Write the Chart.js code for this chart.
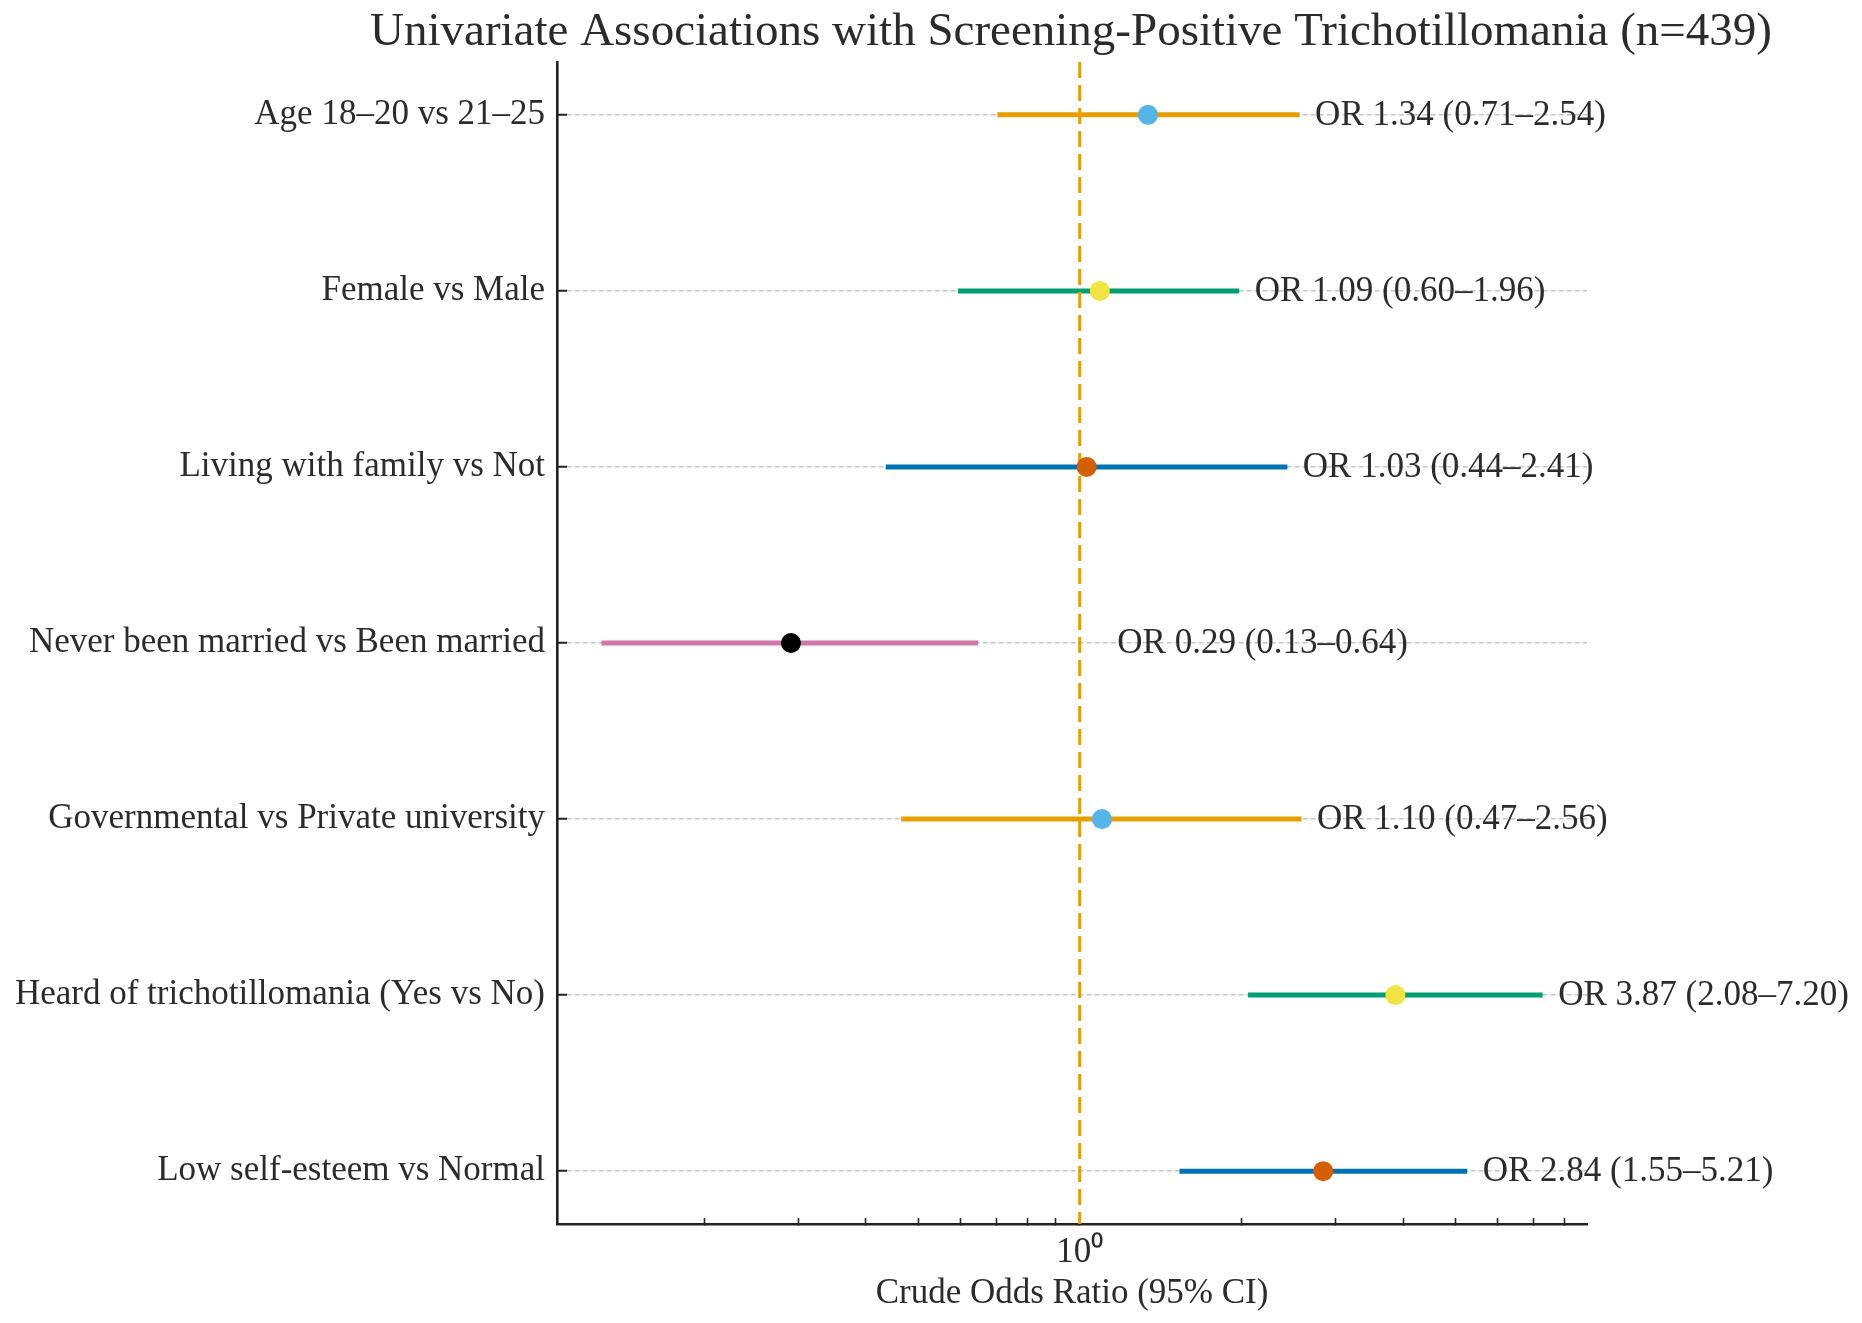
<!DOCTYPE html>
<html>
<head>
<meta charset="utf-8">
<script src="https://cdn.jsdelivr.net/npm/chart.js@4.4.1/dist/chart.umd.min.js"></script>
<style>
  html, body { margin: 0; padding: 0; background: #ffffff; }
  canvas { display: block; }
</style>
</head>
<body>
<canvas id="c" width="1862" height="1323"></canvas>
<script>
// ---- data ----
const categories = [
  "Age 18–20 vs 21–25",
  "Female vs Male",
  "Living with family vs Not",
  "Never been married vs Been married",
  "Governmental vs Private university",
  "Heard of trichotillomania (Yes vs No)",
  "Low self-esteem vs Normal"
];
const oddsRatios = [1.34, 1.09, 1.03, 0.29, 1.10, 3.87, 2.84];
const lowerCI    = [0.71, 0.60, 0.44, 0.13, 0.47, 2.08, 1.55];
const upperCI    = [2.54, 1.96, 2.41, 0.64, 2.56, 7.20, 5.21];
const xTickValues = [0.2, 0.3, 0.4, 0.5, 0.6, 0.7, 0.8, 0.9, 1, 2, 3, 4, 5, 6, 7, 8];
const referenceOR = 1;
const titleText = "Univariate Associations with Screening-Positive Trichotillomania (n=439)";
const xAxisTitle = "Crude Odds Ratio (95% CI)";

// ---- styles ----
const lineColors  = ["#E69F00", "#009E73", "#0072B2", "#CC79A7", "#E69F00", "#009E73", "#0072B2"];
const pointColors = ["#56B4E9", "#F0E442", "#D55E00", "#000000", "#56B4E9", "#F0E442", "#D55E00"];
const FONT = "'Liberation Serif', 'Times New Roman', serif";
const TEXT = "#2b2b2b";

// log-space 5% margins (like matplotlib autoscale)
const lmin = Math.log10(Math.min(...lowerCI));
const lmax = Math.log10(Math.max(...upperCI));
const lpad = (lmax - lmin) * 0.05;
const xMin = Math.pow(10, lmin - lpad);
const xMax = Math.pow(10, lmax + lpad);

const ciDatasets = categories.map((c, i) => ({
  label: c,
  data: [{ x: lowerCI[i], y: i }, { x: upperCI[i], y: i }],
  showLine: true,
  borderColor: lineColors[i],
  borderWidth: 5,
  borderCapStyle: 'square',
  pointRadius: 0,
  pointHoverRadius: 0,
  order: 1
}));

const pointDataset = {
  label: 'OR',
  data: categories.map((c, i) => ({ x: oddsRatios[i], y: i })),
  showLine: false,
  pointRadius: 10,
  pointHoverRadius: 10,
  pointBorderWidth: 0,
  backgroundColor: pointColors,
  borderColor: pointColors,
  order: -1
};

const refLinePlugin = {
  id: 'refLine',
  beforeDatasetDraw(chart, args) {
    if (args.index !== categories.length) return;
    const { ctx, chartArea } = chart;
    const x = chart.scales.x.getPixelForValue(referenceOR);
    ctx.save();
    ctx.strokeStyle = "#E69F00";
    ctx.lineWidth = 3;
    ctx.setLineDash([16, 7]);
    ctx.beginPath();
    ctx.moveTo(x, chartArea.top);
    ctx.lineTo(x, chartArea.bottom);
    ctx.stroke();
    ctx.restore();
  }
};

const labelPlugin = {
  id: 'orLabels',
  afterDatasetsDraw(chart) {
    const { ctx } = chart;
    const xs = chart.scales.x, ys = chart.scales.y;
    ctx.save();
    ctx.font = "35px " + FONT;
    ctx.fillStyle = TEXT;
    ctx.textAlign = 'left';
    ctx.textBaseline = 'middle';
    categories.forEach((c, i) => {
      const txt = "OR " + oddsRatios[i].toFixed(2) + " (" + lowerCI[i].toFixed(2) + "–" + upperCI[i].toFixed(2) + ")";
      const px = xs.getPixelForValue(Math.max(upperCI[i] * 1.08, 1.175));
      const py = ys.getPixelForValue(i);
      ctx.fillText(txt, px, py + 1);
    });
    ctx.restore();
  }
};

const titlePlugin = {
  id: 'mainTitle',
  afterDraw(chart) {
    const { ctx, chartArea } = chart;
    ctx.save();
    ctx.font = "47px " + FONT;
    ctx.fillStyle = TEXT;
    ctx.textAlign = 'center';
    ctx.textBaseline = 'alphabetic';
    ctx.fillText(titleText, (chartArea.left + chartArea.right) / 2 - 1, 45);
    ctx.restore();
  }
};

new Chart(document.getElementById('c'), {
  type: 'scatter',
  data: { datasets: [...ciDatasets, pointDataset] },
  options: {
    responsive: false,
    animation: false,
    devicePixelRatio: 1,
    layout: { padding: { left: 0, right: 275, top: 62, bottom: 0 } },
    plugins: {
      legend: { display: false },
      tooltip: { enabled: false },
      title: { display: false }
    },
    scales: {
      x: {
        type: 'logarithmic',
        position: 'bottom',
        min: xMin,
        max: xMax,
        afterBuildTicks: (s) => { s.ticks = xTickValues.map(v => ({ value: v, major: v === 1 })); },
        afterFit: (s) => { s.height = 99; },
        ticks: {
          autoSkip: false,
          maxRotation: 0,
          padding: 14,
          color: TEXT,
          font: { family: FONT, size: 35 },
          callback: (v) => (v === 1 ? "10⁰" : "")
        },
        grid: {
          drawOnChartArea: false,
          drawTicks: true,
          tickLength: -6,
          tickWidth: 1.6,
          tickColor: "#222222"
        },
        border: { display: true, color: "#222222", width: 2.6 },
        title: {
          display: true,
          text: xAxisTitle,
          color: TEXT,
          font: { family: FONT, size: 35 },
          padding: { top: 0, bottom: 8 }
        }
      },
      y: {
        type: 'linear',
        reverse: true,
        min: -0.3,
        max: 6.3,
        afterBuildTicks: (s) => { s.ticks = categories.map((c, i) => ({ value: i })); },
        afterFit: (s) => { s.width = 557; },
        ticks: {
          autoSkip: false,
          padding: 22,
          color: TEXT,
          font: { family: FONT, size: 35 },
          callback: (v) => categories[v]
        },
        grid: {
          color: "#c4c4c4",
          lineWidth: 1.5,
          drawTicks: true,
          tickLength: -10,
          tickWidth: 2,
          tickColor: "#222222"
        },
        border: { display: true, color: "#222222", width: 2.6, dash: [5, 3] }
      }
    }
  },
  plugins: [refLinePlugin, labelPlugin, titlePlugin]
});
</script>
</body>
</html>
